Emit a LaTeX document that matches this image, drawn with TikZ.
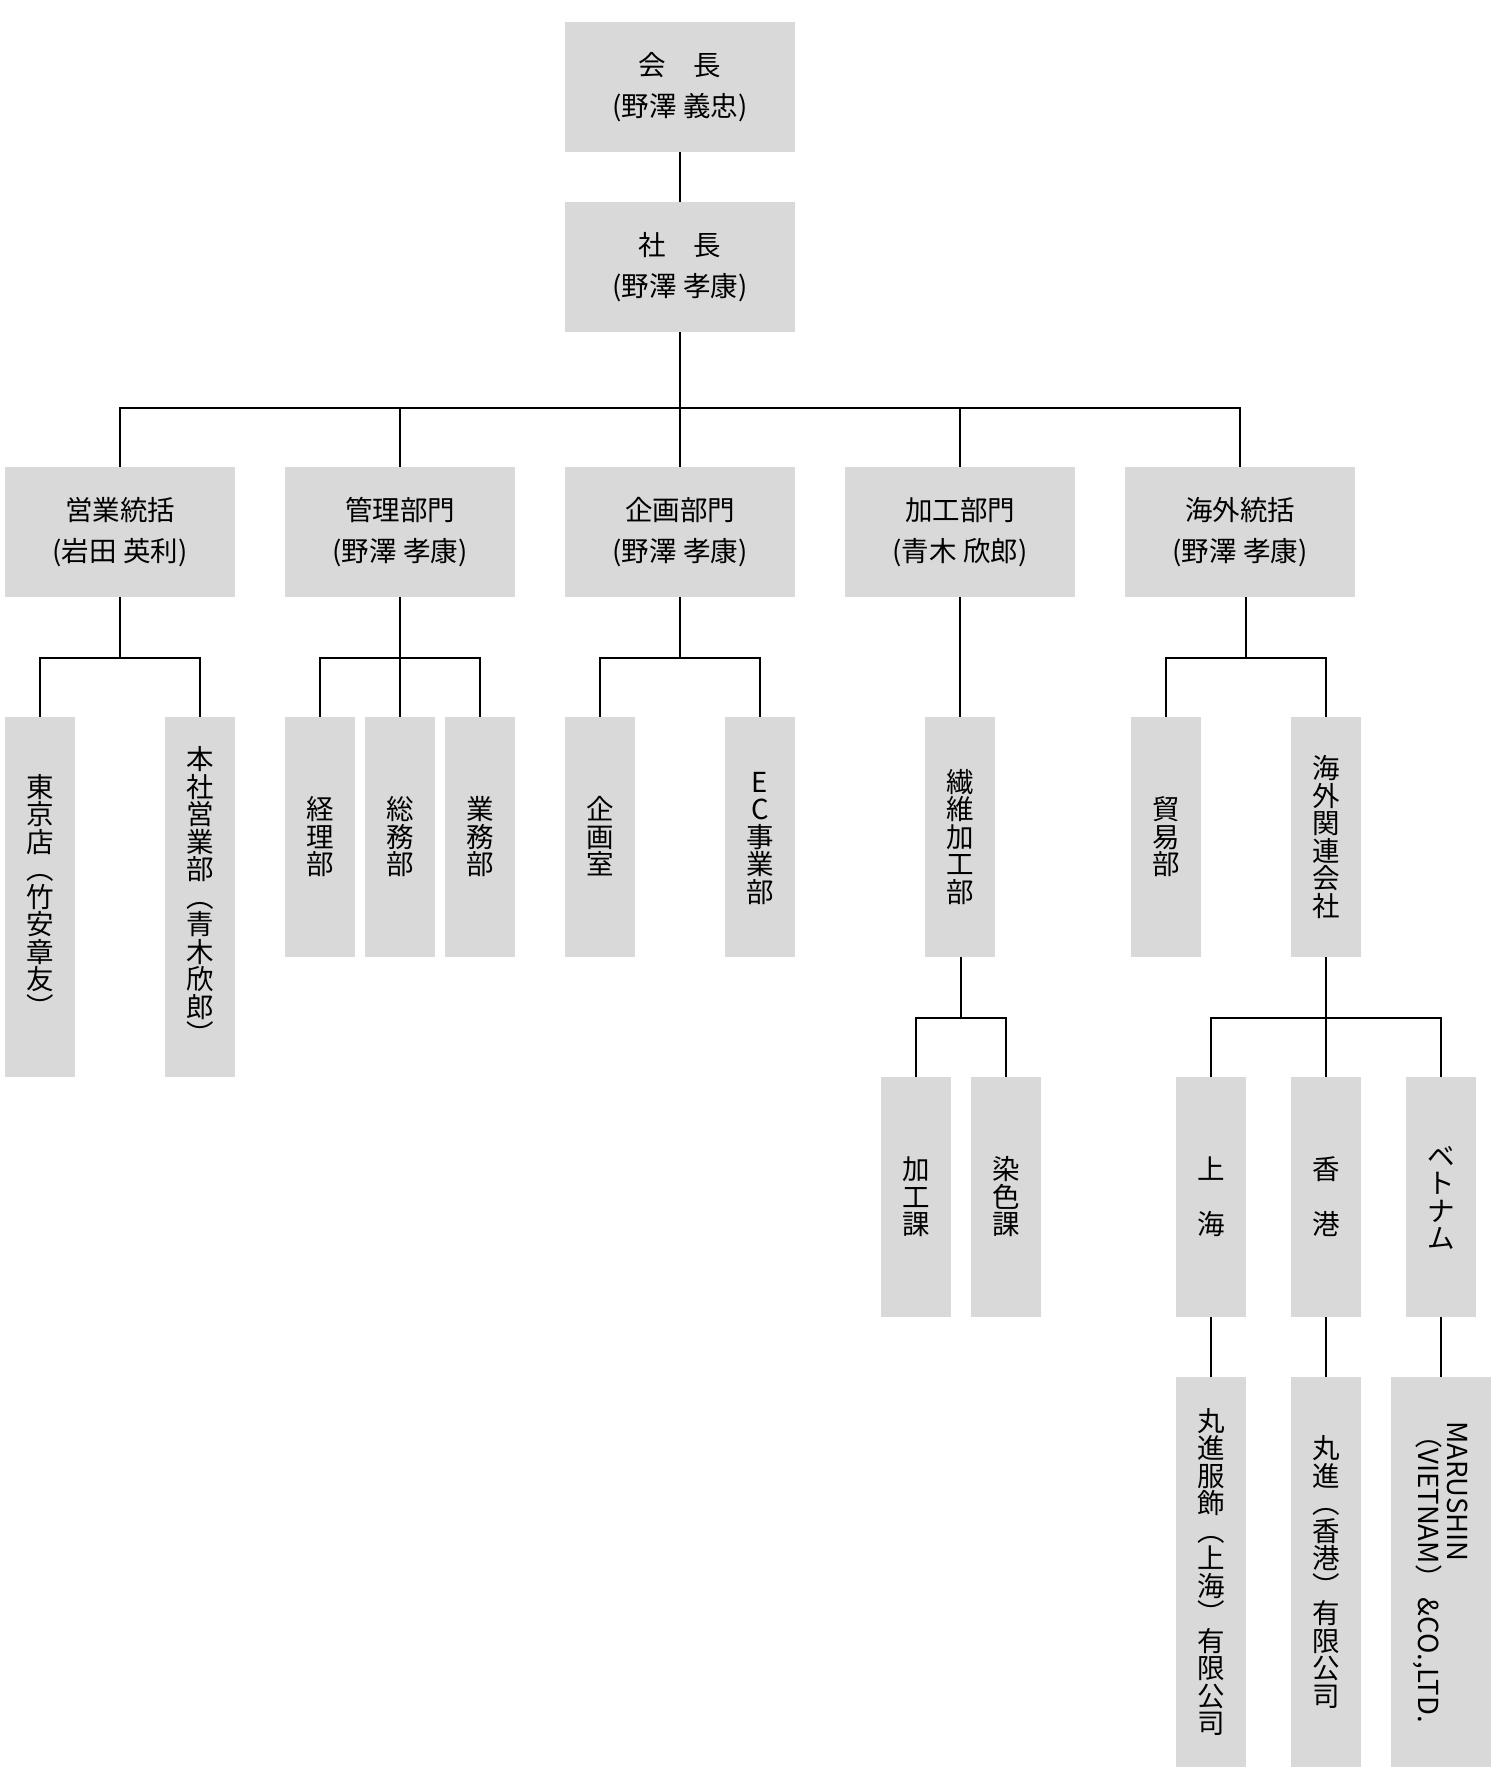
\documentclass[tikz,border=0pt]{standalone}
\usepackage{fontspec}
\setmainfont{Noto Sans CJK JP}
\usetikzlibrary{calc}
\definecolor{boxgray}{RGB}{217,217,217}
\ExplSyntaxOn
\NewDocumentCommand \vt { m }
 {
  \vbox:n
   {
    \offinterlineskip
    \tl_map_inline:nn {#1}
     {
      \hbox_to_wd:nn {1em} { \hss \vrule ~ height ~ .88em ~ depth ~ .12em ~ width ~ 0pt \relax ##1 \hss }
     }
   }
 }
\ExplSyntaxOff
\tikzset{
  hbx/.style={fill=boxgray, minimum width=230pt, minimum height=130pt, inner sep=0pt,
    align=center, font=\fontsize{27.5}{41}\selectfont},
  vbx/.style={fill=boxgray, minimum width=70pt, minimum height=240pt, inner sep=0pt,
    font=\fontsize{27.5}{27.5}\selectfont},
  conn/.style={line width=2.9pt, line join=miter},
}
\begin{document}
\begin{tikzpicture}[x=1pt,y=-1pt]
\useasboundingbox (0,0) rectangle (1496,1791);
% level 1-2
\node[hbx] (kaicho) at (680,87) {会　長\\(野澤 義忠)};
\node[hbx] (shacho) at (680,267) {社　長\\(野澤 孝康)};
\node[hbx] (eigyo) at (120,532) {営業統括\\(岩田 英利)};
\node[hbx] (kanri) at (400,532) {管理部門\\(野澤 孝康)};
\node[hbx] (kikaku) at (680,532) {企画部門\\(野澤 孝康)};
\node[hbx] (kako) at (960,532) {加工部門\\(青木 欣郎)};
\node[hbx] (kaigai) at (1240,532) {海外統括\\(野澤 孝康)};
% level 3
\node[vbx, minimum height=360pt] (tokyo) at (40,897) {\vt{東京店︵竹安章友︶}};
\node[vbx, minimum height=360pt] (honsha) at (200,897) {\vt{本社営業部︵青木欣郎︶}};
\node[vbx] (keiri) at (320,837) {\vt{経理部}};
\node[vbx] (somu) at (400,837) {\vt{総務部}};
\node[vbx] (gyomu) at (480,837) {\vt{業務部}};
\node[vbx] (kikakushitsu) at (600,837) {\vt{企画室}};
\node[vbx] (ec) at (760,837) {\vt{EC事業部}};
\node[vbx] (seni) at (960,837) {\vt{繊維加工部}};
\node[vbx] (boeki) at (1166,837) {\vt{貿易部}};
\node[vbx] (kanren) at (1326,837) {\vt{海外関連会社}};
% level 4
\node[vbx] (kakoka) at (916,1197) {\vt{加工課}};
\node[vbx] (senshoku) at (1006,1197) {\vt{染色課}};
\node[vbx] (shanghai) at (1211,1197) {\vt{上{}海}};
\node[vbx] (hongkong) at (1326,1197) {\vt{香{}港}};
\node[vbx] (vietnam) at (1441,1197) {\vt{ベトナム}};
% level 5
\node[vbx, minimum height=390pt] (maru1) at (1211,1572) {\vt{丸進服飾︵上海︶有限公司}};
\node[vbx, minimum height=390pt] (maru2) at (1326,1572) {\vt{丸進︵香港︶有限公司}};
\node[vbx, minimum width=100pt, minimum height=390pt] (maru3) at (1441,1572) {};
\node[rotate=-90, align=left, inner sep=0pt, font=\fontsize{27.5}{29}\selectfont] (maru3t) at (maru3.center) {MARUSHIN\\（VIETNAM） \&CO.,LTD.};
% connectors
\coordinate (bar1) at (0,408);
\coordinate (bar2) at (0,658);
\coordinate (bar3) at (0,1018);
\draw[conn] (kaicho.south) -- (shacho.north);
\draw[conn] (shacho.south) -- (shacho.south |- bar1);
\draw[conn] (eigyo.north) -- (eigyo.north |- bar1) -- (kaigai.north |- bar1) -- (kaigai.north);
\foreach \n in {kanri,kikaku,kako} \draw[conn] (\n.north) -- (\n.north |- bar1);
% eigyo group
\coordinate (m1) at ($(tokyo.north)!.5!(honsha.north)$);
\draw[conn] (m1 |- eigyo.south) -- (m1 |- bar2);
\draw[conn] (tokyo.north) -- (tokyo.north |- bar2) -- (honsha.north |- bar2) -- (honsha.north);
% kanri group
\draw[conn] (somu.north |- kanri.south) -- (somu.north);
\draw[conn] (keiri.north) -- (keiri.north |- bar2) -- (gyomu.north |- bar2) -- (gyomu.north);
% kikaku group
\coordinate (m3) at ($(kikakushitsu.north)!.5!(ec.north)$);
\draw[conn] (m3 |- kikaku.south) -- (m3 |- bar2);
\draw[conn] (kikakushitsu.north) -- (kikakushitsu.north |- bar2) -- (ec.north |- bar2) -- (ec.north);
% kako
\draw[conn] (kako.south) -- (seni.north);
% kaigai group
\coordinate (m5) at ($(boeki.north)!.5!(kanren.north)$);
\draw[conn] (m5 |- kaigai.south) -- (m5 |- bar2);
\draw[conn] (boeki.north) -- (boeki.north |- bar2) -- (kanren.north |- bar2) -- (kanren.north);
% seni group
\coordinate (m6) at ($(kakoka.north)!.5!(senshoku.north)$);
\draw[conn] (m6 |- seni.south) -- (m6 |- bar3);
\draw[conn] (kakoka.north) -- (kakoka.north |- bar3) -- (senshoku.north |- bar3) -- (senshoku.north);
% kanren group
\draw[conn] (kanren.south) -- (hongkong.north);
\draw[conn] (shanghai.north) -- (shanghai.north |- bar3) -- (vietnam.north |- bar3) -- (vietnam.north);
% level 5 links
\draw[conn] (shanghai.south) -- (maru1.north);
\draw[conn] (hongkong.south) -- (maru2.north);
\draw[conn] (vietnam.south) -- (maru3.north);
\end{tikzpicture}
\end{document}
